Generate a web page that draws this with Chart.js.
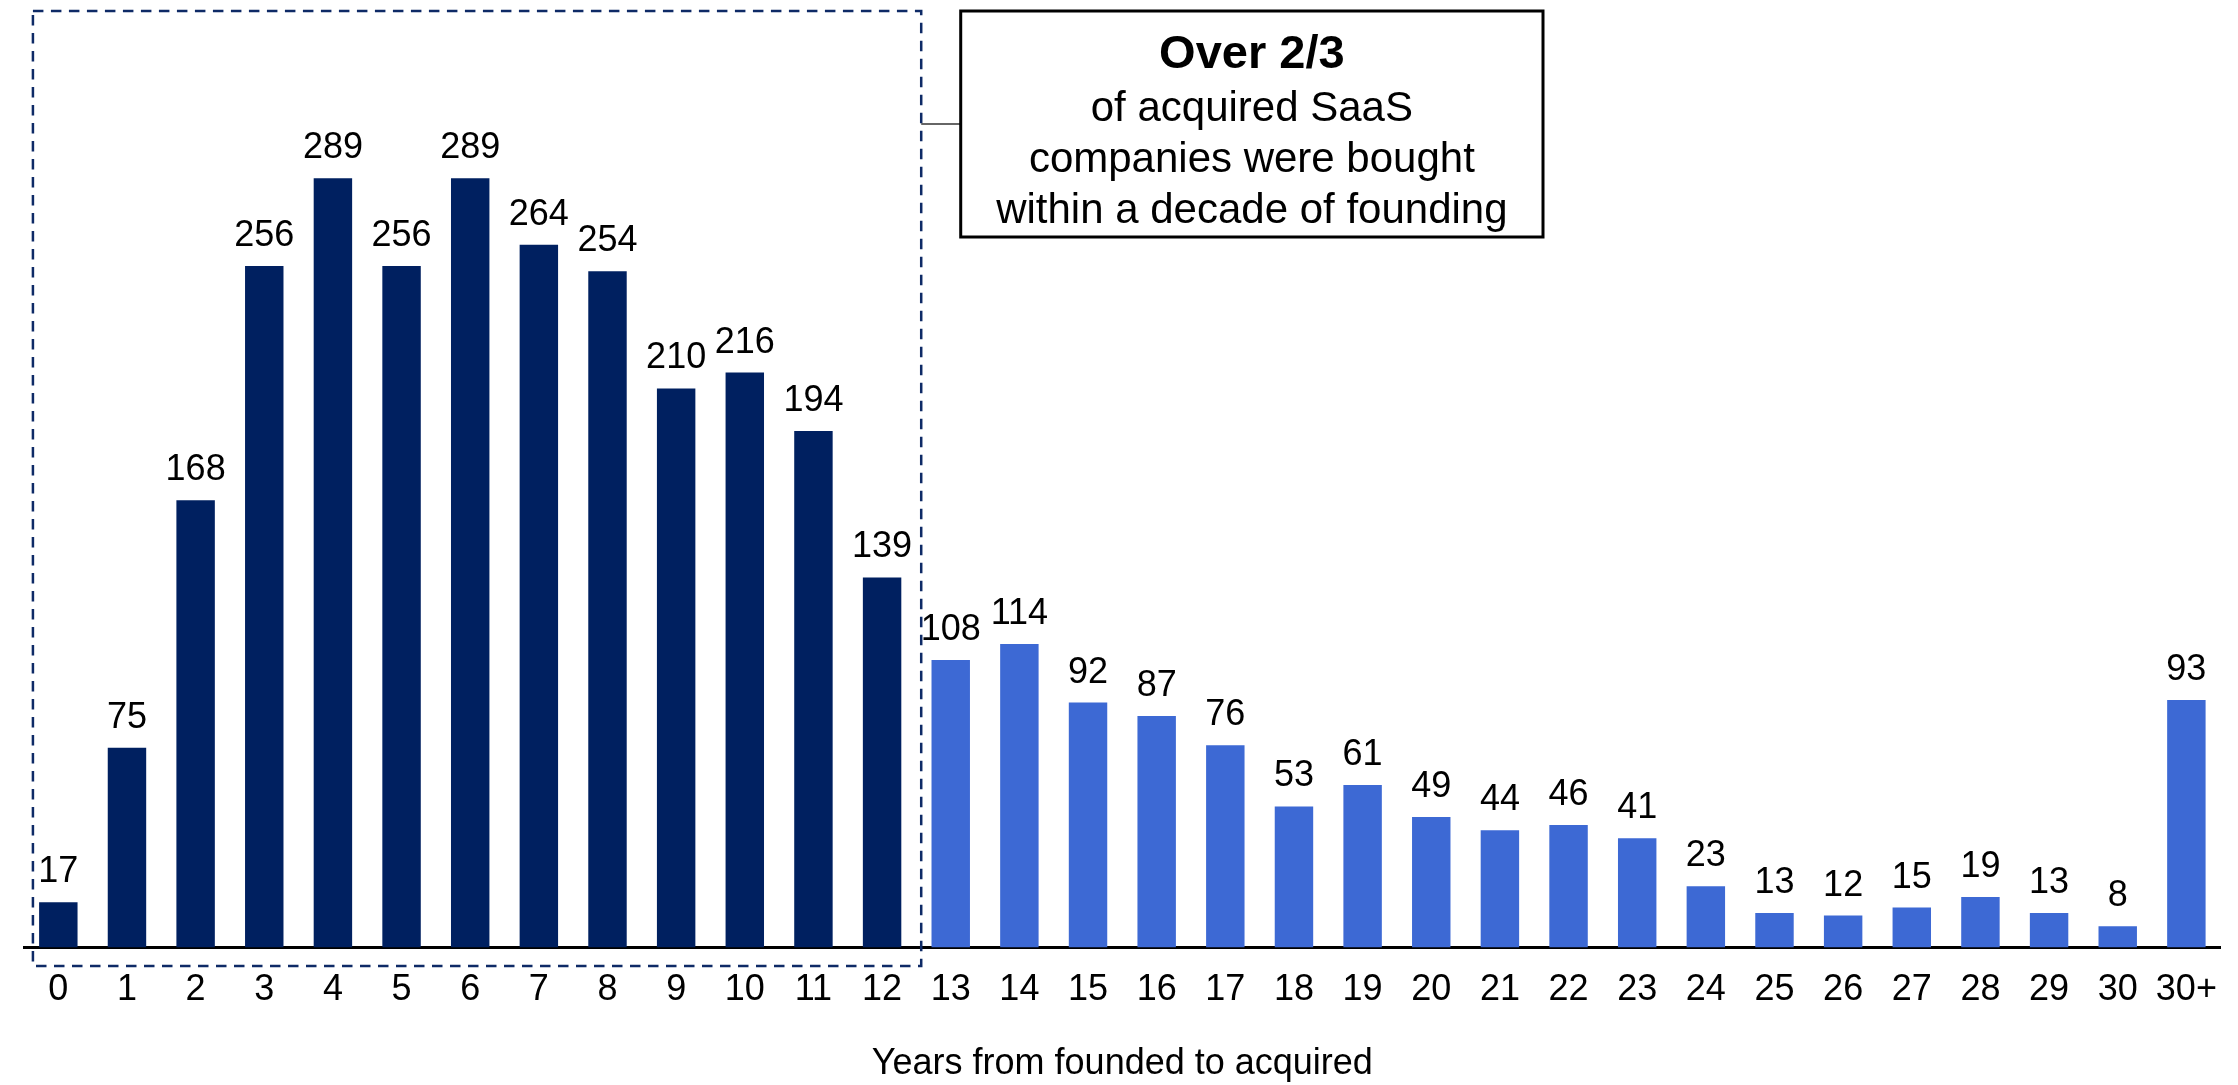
<!DOCTYPE html>
<html>
<head>
<meta charset="utf-8">
<script src="https://cdn.jsdelivr.net/npm/chart.js@4"></script>
<style>
    html, body { margin: 0; padding: 0; background: #fff; }
    canvas { display: block; }
</style>
</head>
<body>
<canvas id="saasChart" width="2238" height="1085"></canvas>
<script>
    'use strict';

    // years from founding to acquisition (x categories)
    var years = ['0', '1', '2', '3', '4', '5', '6', '7', '8', '9', '10', '11', '12', '13', '14', '15',
        '16', '17', '18', '19', '20', '21', '22', '23', '24', '25', '26', '27', '28', '29', '30', '30+'];
    // number of acquired SaaS companies per year bucket
    var acquisitions = [17, 75, 168, 256, 289, 256, 289, 264, 254, 210, 216, 194, 139,
        108, 114, 92, 87, 76, 53, 61, 49, 44, 46, 41, 23, 13, 12, 15, 19, 13, 8, 93];
    // first 13 buckets are highlighted in dark blue
    var highlightedYears = 13;
    var calloutTitle = 'Over 2/3';
    var calloutLines = ['of acquired SaaS', 'companies were bought', 'within a decade of founding'];
    var axisTitle = 'Years from founded to acquired';

    var FONT = '"Liberation Sans", Arial, sans-serif';
    var DARK = '#002060';
    var LIGHT = '#3D69D4';

    var barColors = acquisitions.map(function (v, i) {
        return i < highlightedYears ? DARK : LIGHT;
    });

    var overlayPlugin = {
        id: 'overlay',
        afterDatasetsDraw: function (chart) {
            var ctx = chart.ctx;
            var x = chart.scales.x;
            var area = chart.chartArea;
            var meta = chart.getDatasetMeta(0);

            ctx.save();

            // value labels above the bars
            ctx.font = '36px ' + FONT;
            ctx.fillStyle = '#000';
            ctx.textAlign = 'center';
            ctx.textBaseline = 'alphabetic';
            meta.data.forEach(function (bar, i) {
                ctx.fillText(String(acquisitions[i]), bar.x, bar.y - 20);
            });

            // dashed frame round the first decade
            var step = x.getPixelForValue(1) - x.getPixelForValue(0);
            var frameLeft = x.getPixelForValue(0) - step * 0.37;
            var frameRight = x.getPixelForValue(highlightedYears - 1) + step * 0.57;
            var frameTop = 11;
            var frameBottom = area.bottom + 18.5;
            ctx.strokeStyle = '#0E2A66';
            ctx.lineWidth = 2.5;
            ctx.setLineDash([10.5, 7.5]);
            ctx.strokeRect(frameLeft, frameTop, frameRight - frameLeft, frameBottom - frameTop);
            ctx.setLineDash([]);

            // callout box
            var boxLeft = frameRight + 39.5;
            var boxRight = 1543;
            var boxTop = 11;
            var boxBottom = 237;
            var boxMid = (boxLeft + boxRight) / 2;

            ctx.strokeStyle = '#333';
            ctx.lineWidth = 1.5;
            ctx.beginPath();
            ctx.moveTo(frameRight, (boxTop + boxBottom) / 2);
            ctx.lineTo(boxLeft, (boxTop + boxBottom) / 2);
            ctx.stroke();

            ctx.fillStyle = '#fff';
            ctx.fillRect(boxLeft, boxTop, boxRight - boxLeft, boxBottom - boxTop);
            ctx.strokeStyle = '#000';
            ctx.lineWidth = 3;
            ctx.strokeRect(boxLeft, boxTop, boxRight - boxLeft, boxBottom - boxTop);

            ctx.fillStyle = '#000';
            ctx.font = 'bold 47px ' + FONT;
            ctx.fillText(calloutTitle, boxMid, boxTop + 57);
            ctx.font = '42px ' + FONT;
            calloutLines.forEach(function (line, i) {
                ctx.fillText(line, boxMid, boxTop + 110 + i * 51);
            });

            ctx.restore();
        }
    };

    var chart = new Chart(document.getElementById('saasChart').getContext('2d'), {
        type: 'bar',
        data: {
            labels: years,
            datasets: [
                {
                    label: 'Acquisitions',
                    data: acquisitions,
                    backgroundColor: barColors,
                    borderWidth: 0,
                    categoryPercentage: 1,
                    barPercentage: 0.56,
                }
            ]
        },
        options: {
            responsive: false,
            animation: false,
            layout: {
                padding: {top: 15.8, left: 24, right: 6, bottom: 0}
            },
            plugins: {
                legend: {display: false},
                tooltip: {enabled: false},
            },
            scales: {
                x: {
                    grid: {display: false, drawTicks: false},
                    border: {display: true, color: '#000', width: 3},
                    ticks: {
                        color: '#000',
                        padding: 21,
                        maxRotation: 0,
                        autoSkip: false,
                        font: {family: FONT, size: 36},
                    },
                    title: {
                        display: true,
                        text: axisTitle,
                        color: '#000',
                        padding: {top: 0, bottom: -1},
                        font: {family: FONT, size: 36},
                    },
                    afterFit: function (scale) {
                        scale.height = 137.5;
                    },
                },
                y: {
                    display: false,
                    min: 0,
                    max: 350,
                }
            }
        },
        plugins: [overlayPlugin]
    });
</script>
</body>
</html>
